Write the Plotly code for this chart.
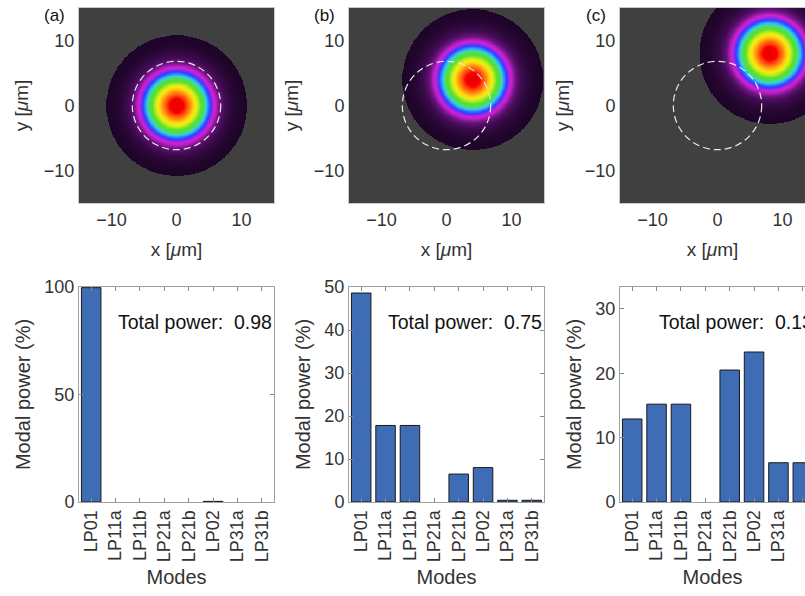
import numpy as np
import plotly.graph_objects as go

# ---------------- data ----------------
modes = ["LP01", "LP11a", "LP11b", "LP21a", "LP21b", "LP02", "LP31a", "LP31b"]
power_a = [99.7, 0.0, 0.0, 0.0, 0.0, 0.3, 0.0, 0.0]
power_b = [48.6, 17.8, 17.8, 0.0, 6.5, 8.0, 0.4, 0.4]
power_c = [12.9, 15.2, 15.2, 0.0, 20.5, 23.3, 6.1, 6.1]
total_power = ["0.98", "0.75", "0.13"]
panel_labels = ["(a)", "(b)", "(c)"]
beam_x0 = [0.0, 4.0, 8.0]       # beam centre x [um]
beam_y0 = [0.0, 4.0, 8.0]       # beam centre y [um]
beam_waist = 6.0                # um
beam_cutoff = 10.8              # um, radius of displayed beam
core_radius = 6.8               # um, dashed circle
xy_ticks = [-10, 0, 10]

W, H = 805, 596
FONT = "Liberation Sans, Arial, Helvetica, sans-serif"
TXT = "#333333"
FRAME = "#a0a0a0"

def px(x):
    return x / W

def py(y):
    return 1 - y / H

colorscale = [
    [0.00, "#1c0426"],
    [0.02, "#2e083c"],
    [0.05, "#440c56"],
    [0.09, "#701484"],
    [0.12, "#aa1cb4"],
    [0.15, "#d022d2"],
    [0.19, "#8a28f0"],
    [0.225, "#3040ff"],
    [0.265, "#2a84ff"],
    [0.30, "#38b8f2"],
    [0.34, "#40d8b0"],
    [0.38, "#48e050"],
    [0.46, "#5ce030"],
    [0.54, "#b4ea20"],
    [0.62, "#f4ee10"],
    [0.71, "#ffc410"],
    [0.80, "#ff8010"],
    [0.89, "#ff3c08"],
    [0.94, "#f80000"],
    [1.00, "#e80000"],
]

grid = np.linspace(-15, 15, 361)
GX, GY = np.meshgrid(grid, grid)

# panel pixel geometry
col_left = [79, 349, 620]
col_right = [274, 544, 815]
hm_top, hm_bot = 8, 203
bar_top, bar_bot = 287, 502

bar_sets = [power_a, power_b, power_c]
bar_ymax = [100, 50, 33.4]
bar_ytick = [[0, 50, 100], [0, 10, 20, 30, 40, 50], [0, 10, 20, 30]]

fig = go.Figure()
layout = dict(
    width=W, height=H,
    margin=dict(l=0, r=0, t=0, b=0, autoexpand=False),
    paper_bgcolor="white", plot_bgcolor="white",
    showlegend=False,
    font=dict(family=FONT, color=TXT, size=18),
    shapes=[], annotations=[],
)

for i in range(3):
    hx = f"x{2*i+1}"
    hy = f"y{2*i+1}"
    bx = f"x{2*i+2}"
    by = f"y{2*i+2}"
    left = col_left[i]
    right = min(col_right[i], W)
    full_w = col_right[i] - col_left[i]
    frac = (right - left) / full_w
    hx_range = [-15, -15 + 30 * frac]
    bx_range = [-0.5, -0.5 + 8 * frac]
    mirror_y = i < 2

    # ---------- heatmap ----------
    R2 = (GX - beam_x0[i]) ** 2 + (GY - beam_y0[i]) ** 2
    Z = np.exp(-2 * R2 / beam_waist ** 2)
    Z[R2 > beam_cutoff ** 2] = np.nan
    fig.add_trace(go.Heatmap(
        x=grid, y=grid, z=Z, colorscale=colorscale, zmin=0, zmax=1,
        showscale=False, xaxis=hx, yaxis=hy, hoverinfo="skip",
    ))
    layout["xaxis" + ("" if i == 0 else str(2*i+1))] = dict(
        domain=[px(left), px(right)], range=hx_range, anchor=hy,
        tickvals=xy_ticks, ticks="", showgrid=False, zeroline=False,
        showline=True, linecolor="#c8c8c8", linewidth=1, mirror=True,
        tickfont=dict(size=18, color=TXT), automargin=False,
        title=dict(text="x [<i>μ</i>m]", font=dict(size=19, color=TXT), standoff=14),
    )
    layout[f"yaxis{2*i+1}" if i > 0 else "yaxis"] = dict(
        domain=[py(hm_bot), py(hm_top)], range=[-15, 15], anchor=hx,
        tickvals=xy_ticks, ticks="", showgrid=False, zeroline=False,
        showline=True, linecolor="#c8c8c8", linewidth=1, mirror=mirror_y,
        tickfont=dict(size=18, color=TXT), automargin=False,
        title=dict(text="y [<i>μ</i>m]", font=dict(size=19, color=TXT), standoff=10),
    )
    layout["shapes"].append(dict(
        type="rect", xref=hx, yref=hy, x0=-15, x1=15, y0=-15, y1=15,
        fillcolor="#404040", line=dict(width=0), layer="below",
    ))
    layout["shapes"].append(dict(
        type="circle", xref=hx, yref=hy,
        x0=-core_radius, x1=core_radius, y0=-core_radius, y1=core_radius,
        line=dict(color="#e8e8e8", width=1.2, dash="7px,4px"), layer="above",
    ))
    layout["annotations"].append(dict(
        text=panel_labels[i], xref="paper", yref="paper",
        x=px(left - 12), y=py(15), xanchor="right", yanchor="middle",
        showarrow=False, font=dict(size=17, color="#111111"),
    ))

    # ---------- bars ----------
    yvals = [v if v > 0 else None for v in bar_sets[i]]
    fig.add_trace(go.Bar(
        x=list(range(len(modes))), y=yvals, width=0.8,
        marker=dict(color="#3e6db5", line=dict(color="#1a1a1a", width=1)),
        xaxis=bx, yaxis=by, hoverinfo="skip", cliponaxis=True,
    ))
    layout[f"xaxis{2*i+2}"] = dict(
        domain=[px(left), px(right)], range=bx_range, anchor=by,
        tickvals=list(range(len(modes))), ticktext=modes, tickangle=-90,
        ticks="inside", ticklen=4, tickcolor="#888888",
        showgrid=False, zeroline=False,
        showline=True, linecolor=FRAME, linewidth=1, mirror="ticks",
        tickfont=dict(size=18, color=TXT), automargin=False,
        title=dict(text="Modes", font=dict(size=20, color=TXT), standoff=8),
    )
    layout[f"yaxis{2*i+2}"] = dict(
        domain=[py(bar_bot), py(bar_top)], range=[0, bar_ymax[i]], anchor=bx,
        tickvals=bar_ytick[i], ticks="inside", ticklen=4, tickcolor="#888888",
        showgrid=False, zeroline=False,
        showline=True, linecolor=FRAME, linewidth=1,
        mirror="ticks" if mirror_y else False,
        tickfont=dict(size=18, color=TXT), automargin=False,
        title=dict(text="Modal power (%)", font=dict(size=20, color=TXT), standoff=8),
    )
    layout["annotations"].append(dict(
        text="Total power:  " + total_power[i], xref="paper", yref="paper",
        x=px(left + 37), y=py(322), xanchor="left", yanchor="middle",
        showarrow=False, font=dict(size=19.5, color="#111111"),
    ))

fig.update_layout(**layout)
fig.write_html(
    "out.html",
    config={"displayModeBar": False},
    post_script="document.body.style.margin='0';document.body.style.overflow='hidden';",
)
